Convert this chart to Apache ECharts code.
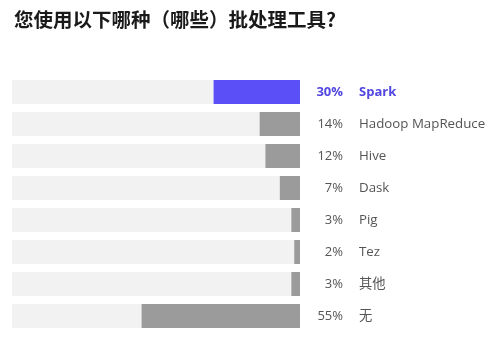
<!DOCTYPE html>
<html>
<head>
<meta charset="utf-8">
<script src="https://cdn.jsdelivr.net/npm/echarts@6/dist/echarts.min.js"></script>
<style>
html,body{margin:0;padding:0;background:#fff;}
#c{width:494px;height:342px;}
</style>
</head>
<body>
<div id="c"></div>
<script>
var titleText = '您使用以下哪种（哪些）批处理工具?';
var categories = ['Spark', 'Hadoop MapReduce', 'Hive', 'Dask', 'Pig', 'Tez', '其他', '无'];
var values = [30, 14, 12, 7, 3, 2, 3, 55];
var highlight = 'Spark';

var chart = echarts.init(document.getElementById('c'));
var font = '"Open Sans", "Noto Sans CJK SC", sans-serif';
var barData = values.map(function (v, i) {
  return {
    value: v,
    itemStyle: { color: categories[i] === highlight ? '#5b4ff7' : '#9b9b9b' }
  };
});
chart.setOption({
  animation: false,
  title: {
    text: titleText,
    left: 9,
    top: 5,
    textStyle: { fontSize: 19.5, fontWeight: 'bold', color: '#1a1a1a', fontFamily: '"Noto Sans CJK SC", sans-serif' }
  },
  grid: { left: 12, right: 194, top: 76, bottom: 10 },
  xAxis: {
    type: 'value', min: 0, max: 100, inverse: true, show: false
  },
  yAxis: [{
    type: 'category', data: categories, inverse: true, position: 'right',
    axisLine: { show: false }, axisTick: { show: false },
    axisLabel: {
      margin: 43, align: 'right', fontSize: 13, fontFamily: font,
      formatter: function (val, idx) {
        return (categories[idx] === highlight ? '{h|' : '{n|') + values[idx] + '%}';
      },
      rich: {
        h: { color: '#5146e0', fontWeight: 'bold', fontSize: 13, fontFamily: font },
        n: { color: '#555555', fontSize: 13, fontFamily: font }
      }
    }
  }, {
    type: 'category', data: categories, inverse: true, position: 'right',
    axisLine: { show: false }, axisTick: { show: false },
    axisLabel: {
      margin: 59, align: 'left', fontSize: 13, fontFamily: font,
      formatter: function (val) {
        return (val === highlight ? '{h|' : '{n|') + val + '}';
      },
      rich: {
        h: { color: '#5146e0', fontWeight: 'bold', fontSize: 13, fontFamily: font },
        n: { color: '#555555', fontSize: 13.3, fontFamily: font }
      }
    }
  }],
  series: [{
    type: 'bar',
    yAxisIndex: 0,
    data: barData,
    barWidth: 24,
    showBackground: true,
    backgroundStyle: { color: '#f2f2f2' }
  }]
});
</script>
</body>
</html>
